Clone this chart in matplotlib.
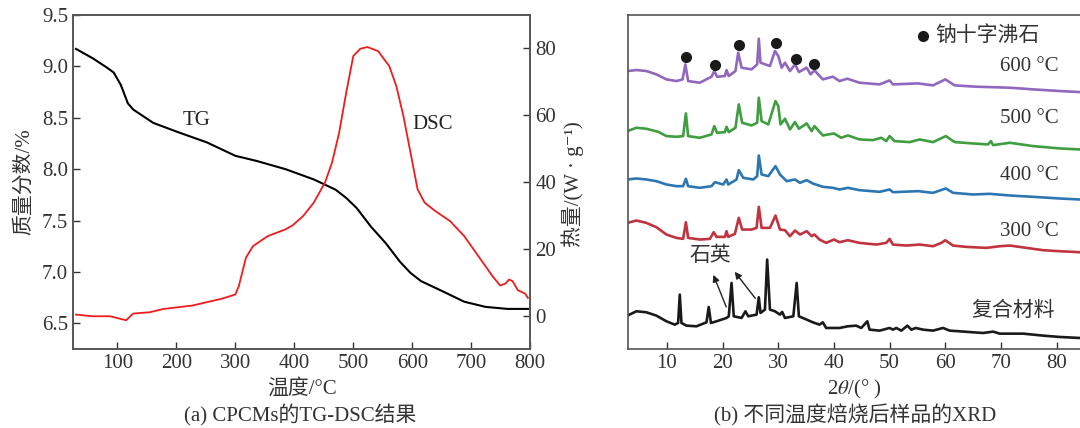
import numpy as np
import matplotlib
matplotlib.use("Agg")
import matplotlib.pyplot as plt

plt.rcParams['font.family'] = ['Liberation Serif', 'Noto Sans CJK SC', 'DejaVu Serif']
plt.rcParams['mathtext.fontset'] = 'stix'
plt.rcParams['font.size'] = 15

# ---- (a) TG-DSC data ----
tg_t = [30, 58, 82, 94, 106, 118, 127, 161, 203, 252, 300, 336, 385, 433, 470,
        488, 506, 530, 555, 579, 597, 615, 652, 688, 724, 761, 796]
tg_m = [9.17, 9.08, 8.99, 8.94, 8.82, 8.64, 8.58, 8.45, 8.36, 8.26, 8.13, 8.08,
        8.0, 7.90, 7.80, 7.72, 7.62, 7.44, 7.28, 7.10, 6.99, 6.91, 6.81, 6.71,
        6.66, 6.64, 6.64]

dsc_t = [30, 58, 88, 115, 127, 155, 179, 227, 276, 300, 306, 318, 330, 355, 385,
         397, 415, 433, 452, 464, 476, 488, 500, 512, 524, 542, 561, 573, 585,
         597, 609, 621, 639, 664, 688, 712, 736, 749, 758, 764, 770, 779, 791, 796]
dsc_q = [0.3, -0.2, -0.2, -1.4, 0.6, 1.0, 2.0, 3.0, 5.0, 6.3, 8.8, 17.3, 20.8,
         23.8, 25.8, 27.0, 29.8, 33.8, 39.8, 45.8, 54.7, 66.7, 77.7, 79.9, 80.4,
         79.2, 74.7, 68.7, 59.7, 48.8, 37.8, 33.8, 31.3, 28.3, 23.8, 17.8, 11.8,
         9.0, 9.6, 10.8, 10.3, 7.6, 6.6, 5.3]

# ---- (b) XRD data ----
comp_x = [2.9, 4.5, 6.3, 8.1, 9.9, 11.4, 12.0, 12.3, 12.6, 13.5, 15.3, 17.1, 17.5,
          17.9, 18.9, 20.7, 21.1, 21.6, 22.0, 23.4, 24.1, 24.6, 26.1, 26.5, 26.8,
          27.6, 28.0, 28.5, 29.4, 30.3, 30.7, 31.2, 32.7, 33.3, 33.7, 35.1, 36.2,
          37.4, 38.0, 38.6, 41.0, 42.5, 44.0, 44.9, 46.0, 46.4, 48.2, 50.0, 50.6,
          51.2, 52.1, 53.2, 53.9, 54.7, 56.0, 57.8, 59.6, 60.8, 62.6, 65.0, 66.8,
          68.6, 69.8, 74.0, 75.8, 77.6, 80.6, 84.2]
comp_y = [10.0, 11.3, 11.0, 10.0, 8.3, 7.3, 7.8, 16.3, 7.8, 7.0, 6.8, 8.0, 12.6,
          7.8, 8.3, 9.3, 9.8, 19.8, 9.8, 9.3, 11.3, 9.8, 10.3, 15.5, 10.8, 11.8,
          26.8, 11.8, 11.3, 10.3, 11.1, 9.3, 9.8, 19.8, 9.8, 8.8, 8.0, 7.3, 8.0,
          6.3, 6.3, 6.8, 7.0, 6.3, 8.3, 5.8, 5.5, 6.3, 5.8, 6.3, 5.5, 7.0, 5.8,
          6.3, 5.8, 5.5, 6.3, 5.5, 5.3, 5.0, 4.8, 5.2, 4.6, 4.6, 4.3, 4.0, 3.6, 3.3]

t300_x = [2.9, 4.5, 6.3, 8.1, 9.9, 11.7, 12.9, 13.4, 13.8, 15.9, 17.7, 18.4, 18.9,
          20.4, 20.7, 21.0, 22.2, 22.9, 23.5, 25.2, 26.1, 26.5, 27.0, 28.5, 29.5,
          30.3, 31.2, 32.1, 33.0, 33.9, 35.1, 36.0, 36.5, 37.4, 38.6, 40.0, 41.0,
          42.5, 44.6, 47.6, 49.4, 50.0, 50.6, 53.0, 55.4, 57.8, 59.3, 60.0, 61.4,
          63.8, 67.4, 69.8, 71.6, 74.6, 77.6, 80.6, 84.2]
t300_y = [37.8, 38.5, 37.8, 36.5, 34.3, 33.3, 33.0, 38.0, 33.3, 32.8, 33.0, 35.0,
          33.6, 33.6, 35.3, 33.6, 34.5, 39.3, 35.8, 35.8, 36.3, 42.6, 36.3, 36.3,
          40.0, 35.8, 35.6, 33.8, 35.5, 34.3, 35.3, 33.8, 34.3, 32.8, 31.8, 32.8,
          32.0, 32.6, 31.8, 31.3, 31.8, 33.0, 31.3, 31.0, 31.3, 30.8, 31.8, 32.6,
          31.0, 30.6, 30.3, 30.8, 31.0, 30.3, 29.6, 29.3, 29.0]

t400_x = [2.9, 4.5, 6.3, 8.1, 9.9, 11.7, 12.9, 13.4, 13.8, 15.9, 18.0, 18.6, 20.1,
          20.7, 21.0, 22.5, 22.9, 23.7, 25.5, 26.2, 26.5, 27.0, 28.2, 29.5, 30.3,
          31.5, 33.0, 33.9, 35.1, 36.2, 38.0, 39.8, 41.0, 42.5, 44.6, 48.2, 50.0,
          50.6, 55.1, 57.8, 60.1, 61.4, 65.0, 68.0, 71.6, 75.8, 80.6, 84.2]
t400_y = [50.8, 51.1, 50.8, 50.3, 49.3, 48.8, 48.8, 51.0, 48.8, 48.3, 48.8, 50.0,
          49.3, 50.8, 49.3, 50.8, 53.6, 51.3, 50.8, 51.8, 58.0, 52.3, 51.8, 54.8,
          52.3, 50.3, 50.8, 49.8, 50.6, 49.6, 48.6, 48.3, 47.8, 48.3, 47.6, 47.1,
          47.8, 47.0, 47.3, 46.8, 48.1, 46.8, 46.3, 46.5, 46.0, 45.6, 45.1, 44.8]

t500_x = [2.9, 4.5, 6.3, 8.4, 9.9, 11.7, 12.9, 13.4, 13.8, 15.9, 18.0, 18.5, 19.0,
          20.4, 20.7, 21.1, 22.3, 22.9, 23.5, 25.2, 26.2, 26.5, 27.0, 28.2, 29.5,
          30.0, 30.4, 31.2, 32.1, 33.0, 33.7, 35.1, 36.0, 36.5, 38.0, 40.0, 41.3,
          42.5, 44.6, 47.0, 48.5, 49.4, 50.0, 50.9, 53.6, 55.4, 57.8, 60.1, 61.7,
          65.0, 67.7, 68.2, 68.6, 71.6, 75.8, 80.6, 84.2]
t500_y = [65.3, 66.3, 66.0, 65.1, 63.8, 63.6, 63.8, 70.6, 63.8, 63.3, 64.3, 66.8,
          64.8, 65.0, 66.6, 65.0, 66.3, 73.3, 67.8, 67.0, 67.8, 75.3, 68.3, 67.3,
          74.3, 72.8, 67.3, 69.0, 65.8, 68.0, 66.0, 67.6, 65.3, 66.8, 64.0, 64.6,
          63.3, 64.0, 62.8, 62.6, 63.3, 62.3, 63.8, 62.3, 62.0, 62.8, 62.0, 63.8,
          62.0, 61.6, 61.3, 62.3, 61.1, 61.8, 60.8, 60.1, 59.8]

t600_x = [2.9, 4.5, 6.3, 8.1, 9.9, 11.7, 12.8, 13.3, 13.8, 15.9, 18.0, 18.5, 19.0,
          20.4, 20.7, 21.1, 22.3, 22.8, 23.4, 25.2, 26.2, 26.5, 26.8, 28.5, 29.4,
          30.0, 30.6, 31.2, 32.1, 33.0, 33.7, 35.1, 35.8, 36.5, 38.0, 39.8, 41.0,
          42.4, 44.6, 48.2, 50.0, 50.6, 55.1, 57.8, 60.0, 61.7, 65.6, 71.6, 75.8,
          80.6, 84.2]
t600_y = [83.3, 83.6, 83.3, 82.3, 80.8, 80.3, 80.8, 85.3, 80.3, 79.8, 81.6, 83.3,
          81.6, 81.8, 83.6, 81.8, 83.3, 88.8, 84.3, 83.8, 85.3, 93.0, 85.8, 84.8,
          89.3, 87.8, 84.3, 85.8, 83.3, 85.3, 83.0, 84.3, 82.3, 83.5, 80.8, 81.6,
          80.3, 81.0, 79.8, 79.3, 80.5, 79.3, 79.6, 79.0, 80.8, 79.0, 78.6, 78.3,
          77.8, 77.3, 77.0]

nat_x = [13.4, 18.6, 22.9, 29.6, 33.1, 36.5]
nat_y = [87.6, 85.1, 91.1, 91.8, 86.8, 85.3]

series = [comp_x, t300_x, t400_x, t500_x, t600_x]
values = [comp_y, t300_y, t400_y, t500_y, t600_y]
labels = ['复合材料', '300 °C', '400 °C', '500 °C', '600 °C']
colors = ['#1a1a1a', '#c0343f', '#2c77b1', '#3f9e3f', '#9068bd']
label_y = [11.3, 35.1, 52.0, 69.1, 84.8]

txt = '#333333'
spine = '#555555'

fig = plt.figure(figsize=(10.8, 4.28), dpi=100)

# ---- panel (a) ----
ax1 = fig.add_axes([0.0676, 0.1846, 0.4234, 0.7804])
ax1.plot(tg_t, tg_m, color='black', lw=1.5)
ax1.set_xlim(25, 800)
ax1.set_ylim(6.25, 9.5)
ax1.set_xticks([100, 200, 300, 400, 500, 600, 700, 800])
ax1.set_yticks([6.5, 7.0, 7.5, 8.0, 8.5, 9.0, 9.5])
ax1.set_yticklabels(['6.5', '7.0', '7.5', '8.0', '8.5', '9.0', '9.5'])
ax1.set_ylabel('质量分数/%', color=txt, labelpad=6)
ax1.set_xlabel('温度/°C', color=txt, labelpad=4)
ax1.text(211, 8.47, 'TG', color='#222222', va='center')
ax1.text(600, 8.43, 'DSC', color='#222222', va='center')

ax2 = ax1.twinx()
ax2.plot(dsc_t, dsc_q, color='#ee1c1c', lw=1.3)
ax2.set_ylim(-10, 90)
ax2.set_yticks([0, 20, 40, 60, 80])

for a in (ax1, ax2):
    a.tick_params(direction='in', colors=txt, labelsize=15, length=5, width=1)
    for s in a.spines.values():
        s.set_color(spine)
        s.set_linewidth(1.2)
ax1.tick_params(axis='y', right=False)

fig.text(0.278, 0.030, '(a) CPCMs的TG-DSC结果', ha='center', va='center',
         color=txt, fontsize=15)

# ---- panel (b) ----
ax3 = fig.add_axes([0.5815, 0.1846, 0.42, 0.7804])
for xs, ys, c in zip(series, values, colors):
    ax3.plot(xs, ys, color=c, lw=1.9)
for lab, ly in zip(labels, label_y):
    ax3.text(69.9 if lab != '复合材料' else 64.6, ly, lab, va='center',
             color=txt, fontsize=15)
ax3.plot(nat_x, nat_y, 'o', color='#1a1a1a', ms=7)
ax3.plot([56.0], [93.8], 'o', color='#1a1a1a', ms=7)
ax3.text(58.2, 93.8, '钠十字沸石', va='center', color=txt, fontsize=15)
ax3.text(14.0, 27.8, '石英', va='center', color=txt, fontsize=15)
ax3.annotate('', xy=(18.15, 23.0), xytext=(20.84, 11.8),
             arrowprops=dict(arrowstyle='-|>', color='#222222', lw=1,
                             mutation_scale=10))
ax3.annotate('', xy=(21.86, 23.8), xytext=(26.18, 14.5),
             arrowprops=dict(arrowstyle='-|>', color='#222222', lw=1,
                             mutation_scale=10))
ax3.set_xlim(3, 84.5)
ax3.set_ylim(0, 100.1)
ax3.set_xticks([10, 20, 30, 40, 50, 60, 70, 80])
ax3.set_yticks([])
ax3.tick_params(direction='in', colors=txt, labelsize=15, length=5, width=1)
ax3.spines['right'].set_visible(False)
for s in ax3.spines.values():
    s.set_color(spine)
    s.set_linewidth(1.2)
ax3.set_xlabel('2$\\theta$/(° )', color=txt, labelpad=4)

fig.text(0.530, 0.57, '热量/(W · g⁻¹)', rotation=90, ha='center',
         va='center', color=txt, fontsize=15)
fig.text(0.792, 0.030, '(b) 不同温度焙烧后样品的XRD', ha='center', va='center',
         color=txt, fontsize=15)

fig.savefig('out.png', dpi=100)
